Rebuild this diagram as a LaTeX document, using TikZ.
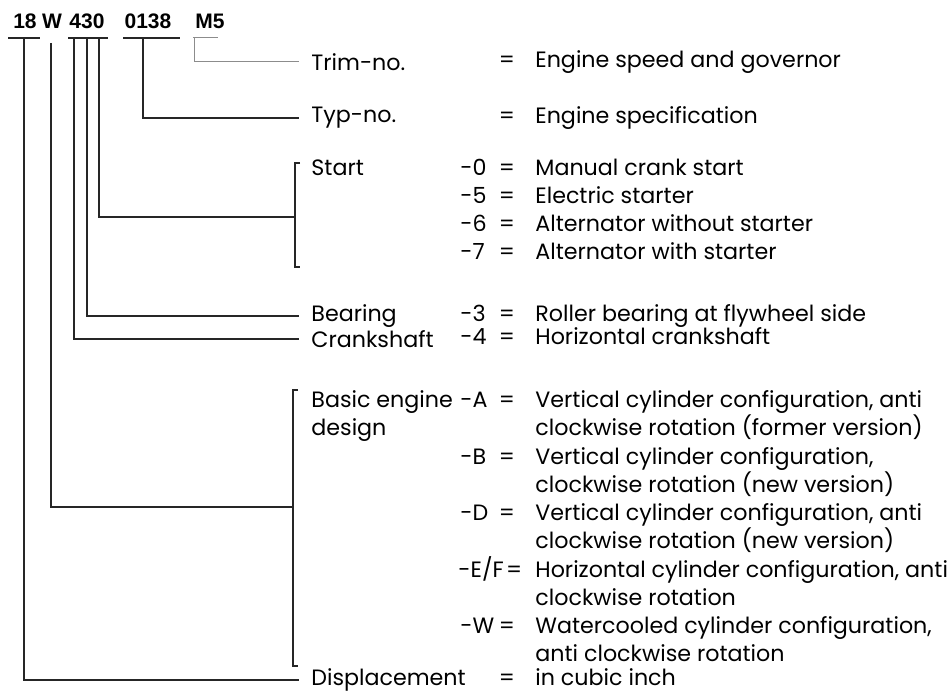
\documentclass[tikz,border=0pt]{standalone}
\usepackage{fontspec}
\setmainfont{Poppins}
\newfontfamily\headfont{Liberation Sans}
\usetikzlibrary{positioning}

\begin{document}
\begin{tikzpicture}[x=0.5pt, y=-0.5pt,
    head/.style={inner sep=0pt, font=\headfont\bfseries\fontsize{10.5}{12}\selectfont},
    lbl/.style={anchor=west, inner xsep=6pt, inner ysep=0pt, align=left, font=\fontsize{11.1}{14}\selectfont},
    code/.style={anchor=base west, inner sep=0pt, font=\fontsize{11.1}{14}\selectfont},
    eqs/.style={anchor=base, inner sep=0pt, font=\fontsize{11.1}{14}\selectfont},
    desc/.style={anchor=base west, inner sep=0pt, align=left, font=\fontsize{11.1}{14}\selectfont},
    wire/.style={line width=0.7pt, draw=black!85},
    faint/.style={line width=0.5pt, draw=black!45},
]
    \useasboundingbox (0,0) rectangle (950,694);

    % type code
    \node[head] (n18) at (25,21) {18};
    \node[head] (nW) at (52,21) {W};
    \node[head] (n430) at (87,21) {430};
    \node[head] (n0138) at (148,21) {0138};
    \node[head] (nM5) at (210,21) {M5};

    % left column
    \node[lbl] (trim) at (299,62) {Trim-no.};
    \node[lbl] (typ) at (299,118) {Typ-no.};
    \node[lbl, anchor=base west] (start) at (299,176) {Start};
    \node[lbl] (bearing) at (299,316) {Bearing};
    \node[lbl] (crank) at (299,339) {Crankshaft};
    \node[lbl, anchor=base west] (basic) at (299,436) {Basic engine\\design};
    \node[lbl] (displ) at (299,680) {Displacement};

    % codes, equal signs and meanings
    \node[eqs] (eqTrim) at (507,68) {=};
    \node[desc] (dTrim) at (535,68) {Engine speed and governor};
    \node[eqs] (eqTyp) at (507,124) {=};
    \node[desc] (dTyp) at (535,124) {Engine specification};

    \node[code] (c0) at (460,176) {-0};
    \node[eqs] at (507,176) {=};
    \node[desc] at (535,176) {Manual crank start};
    \node[code] (c5) at (460,204) {-5};
    \node[eqs] at (507,204) {=};
    \node[desc] at (535,204) {Electric starter};
    \node[code] (c6) at (460,232) {-6};
    \node[eqs] at (507,232) {=};
    \node[desc] at (535,232) {Alternator without starter};
    \node[code] (c7) at (460,260) {-7};
    \node[eqs] at (507,260) {=};
    \node[desc] at (535,260) {Alternator with starter};

    \node[code] (c3) at (460,322) {-3};
    \node[eqs] at (507,322) {=};
    \node[desc] at (535,322) {Roller bearing at flywheel side};
    \node[code] (c4) at (460,345) {-4};
    \node[eqs] at (507,345) {=};
    \node[desc] at (535,345) {Horizontal crankshaft};

    \node[code] (cA) at (460,408) {-A};
    \node[eqs] at (507,408) {=};
    \node[desc] at (535,436) {Vertical cylinder configuration, anti\\clockwise rotation (former version)};
    \node[code] (cB) at (460,465) {-B};
    \node[eqs] at (507,465) {=};
    \node[desc] at (535,493) {Vertical cylinder configuration,\\clockwise rotation (new version)};
    \node[code] (cD) at (460,521) {-D};
    \node[eqs] at (507,521) {=};
    \node[desc] at (535,549) {Vertical cylinder configuration, anti\\clockwise rotation (new version)};
    \node[code] (cEF) at (458,578) {-E/F};
    \node[eqs, anchor=base west] at ([xshift=0.8pt]cEF.base east) {=};
    \node[desc] at (535,606) {Horizontal cylinder configuration, anti\\clockwise rotation};
    \node[code] (cW) at (460,634) {-W};
    \node[eqs] at (507,634) {=};
    \node[desc] at (535,662) {Watercooled cylinder configuration,\\anti clockwise rotation};

    \node[eqs] (eqDis) at (507,686) {=};
    \node[desc] (dDis) at (535,686) {in cubic inch};

    % underlines and taps
    \draw[wire] (8,38) -- (40,38);
    \draw[wire] (68,38) -- (108,38);
    \draw[wire] (123,38) -- (180,38);
    \draw[faint] (193,38) -- (218,38);
    \coordinate (t18) at (24,38);
    \coordinate (tW) at (51,43);
    \coordinate (t4a) at (74,38);
    \coordinate (t4b) at (87,38);
    \coordinate (t4c) at (99,38);
    \coordinate (t0138) at (143,38);
    \coordinate (tM5) at (194,38);

    % brackets
    \coordinate (stTop) at (295,163);
    \coordinate (stMid) at (295,217);
    \coordinate (stBot) at (295,267);
    \draw[wire] ([xshift=2.5pt]stTop) -- (stTop) -- (stBot) -- ([xshift=2.5pt]stBot);
    \coordinate (bsTop) at (293,390);
    \coordinate (bsMid) at (293,507);
    \coordinate (bsBot) at (293,666);
    \draw[wire] ([xshift=2.5pt]bsTop) -- (bsTop) -- (bsBot) -- ([xshift=2.5pt]bsBot);

    % leaders
    \draw[faint] (tM5) |- (trim.west);
    \draw[wire] (t0138) |- (typ.west);
    \draw[wire] (t4c) |- (stMid);
    \draw[wire] (t4b) |- (bearing.west);
    \draw[wire] (t4a) |- (crank.west);
    \draw[wire] (tW) |- (bsMid);
    \draw[wire] (t18) |- (displ.west);
\end{tikzpicture}
\end{document}
